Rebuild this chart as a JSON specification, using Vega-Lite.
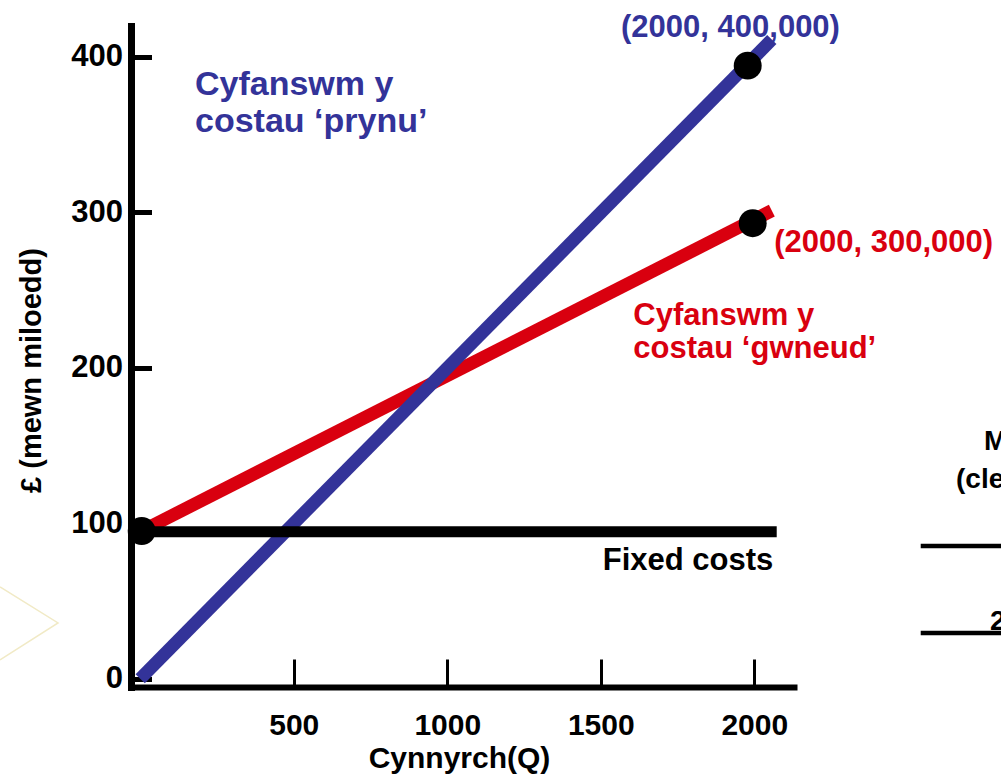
{
  "$schema": "https://vega.github.io/schema/vega-lite/v6.json",
  "width": 663,
  "height": 661,
  "autosize": {"type": "none"},
  "padding": {"left": 131, "top": 26, "right": 207, "bottom": 91},
  "background": "white",
  "config": {"view": {"stroke": null}, "font": "Liberation Sans", "axis": {"grid": false}},
  "datasets": {
    "lines": [
      {"series": "gwneud", "x": 4.8, "y": 95},
      {"series": "gwneud", "x": 2057, "y": 301},
      {"series": "prynu", "x": 0, "y": 0},
      {"series": "prynu", "x": 2057, "y": 411},
      {"series": "fixed", "x": -30, "y": 94.5},
      {"series": "fixed", "x": 2073, "y": 94.5}
    ],
    "points": [
      {"x": 1978.5, "y": 394.2},
      {"x": 1994.8, "y": 292.9},
      {"x": 4.8, "y": 95}
    ],
    "blueNote": [
      {"x": 178.4, "y": 375.4, "label": "Cyfanswm y"},
      {"x": 178.4, "y": 351.6, "label": "costau ‘prynu’"}
    ],
    "redNote": [
      {"x": 1606, "y": 227.5, "label": "Cyfanswm y"},
      {"x": 1606, "y": 206.1, "label": "costau ‘gwneud’"}
    ],
    "blueCoord": [{"x": 1566, "y": 412.7, "label": "(2000, 400,000)"}],
    "redCoord": [{"x": 2065, "y": 274.6, "label": "(2000, 300,000)"}],
    "fixedLabel": [{"x": 2062, "y": 69.9, "label": "Fixed costs"}],
    "tableText": [
      {"x": 2748, "y": 147.1, "label": "Maint"},
      {"x": 2657, "y": 122.7, "label": "(cleientiaid)"},
      {"x": 2768, "y": 31.3, "label": "2000"}
    ],
    "tableRules": [
      {"x": 2542, "x2": 3000, "y": 85.4},
      {"x": 2542, "x2": 3000, "y": 29.4}
    ],
    "watermark": [
      {"x": -456.6, "y": 59, "o": 1},
      {"x": -267.7, "y": 35.9, "o": 2},
      {"x": -456.6, "y": 12.1, "o": 3}
    ]
  },
  "encoding": {
    "x": {
      "field": "x",
      "type": "quantitative",
      "scale": {"domain": [-30, 2129.3], "nice": false, "zero": false},
      "axis": {
        "values": [500, 1000, 1500, 2000],
        "format": "d",
        "title": "Cynnyrch(Q)",
        "domainColor": "black",
        "domainWidth": 6,
        "domainCap": "square",
        "tickColor": "black",
        "tickWidth": 3,
        "tickSize": -28,
        "labelPadding": 75,
        "labelBaseline": "alphabetic",
        "labelFont": "Liberation Sans",
        "labelFontSize": 30,
        "labelFontWeight": "bold",
        "labelColor": "black",
        "labelFlush": false,
        "labelOverlap": false,
        "titleFont": "Liberation Sans",
        "titleFontSize": 30,
        "titleFontWeight": "bold",
        "titleColor": "black",
        "titleX": 328,
        "titleY": 80,
        "titleAlign": "center",
        "titleBaseline": "alphabetic"
      }
    },
    "y": {
      "field": "y",
      "type": "quantitative",
      "scale": {"domain": [-5.3, 419.7], "nice": false, "zero": false},
      "axis": {
        "values": [0, 100, 200, 300, 400],
        "format": "d",
        "title": "£ (mewn miloedd)",
        "domainColor": "black",
        "domainWidth": 7,
        "domainCap": "square",
        "tickColor": "black",
        "tickWidth": 5,
        "tickSize": -20.5,
        "labelPadding": 29,
        "labelFont": "Liberation Sans",
        "labelFontSize": 31,
        "labelFontWeight": "bold",
        "labelColor": "black",
        "labelFlush": false,
        "labelOverlap": false,
        "titleFont": "Liberation Sans",
        "titleFontSize": 29,
        "titleFontWeight": "bold",
        "titleColor": "black",
        "titleAngle": -90,
        "titleX": -91,
        "titleY": 344,
        "titleAlign": "center",
        "titleBaseline": "alphabetic"
      }
    }
  },
  "layer": [
    {
      "data": {"name": "watermark"},
      "mark": {"type": "line", "color": "#f1eac6", "strokeWidth": 1.5},
      "encoding": {"order": {"field": "o", "type": "quantitative"}}
    },
    {
      "data": {"name": "lines"},
      "transform": [{"filter": "datum.series === 'gwneud'"}],
      "mark": {"type": "line", "color": "#d9000f", "strokeWidth": 13, "strokeCap": "butt"},
      "encoding": {}
    },
    {
      "data": {"name": "lines"},
      "transform": [{"filter": "datum.series === 'prynu'"}],
      "mark": {"type": "line", "color": "#333399", "strokeWidth": 13, "strokeCap": "butt"},
      "encoding": {}
    },
    {
      "data": {"name": "lines"},
      "transform": [{"filter": "datum.series === 'fixed'"}],
      "mark": {"type": "line", "color": "black", "strokeWidth": 11, "strokeCap": "butt"},
      "encoding": {}
    },
    {
      "data": {"name": "points"},
      "mark": {"type": "circle", "color": "black", "size": 780, "opacity": 1},
      "encoding": {}
    },
    {
      "data": {"name": "blueNote"},
      "mark": {"type": "text", "align": "left", "baseline": "alphabetic", "font": "Liberation Sans", "fontWeight": "bold", "fontSize": 34, "color": "#333399"},
      "encoding": {"text": {"field": "label"}}
    },
    {
      "data": {"name": "redNote"},
      "mark": {"type": "text", "align": "left", "baseline": "alphabetic", "font": "Liberation Sans", "fontWeight": "bold", "fontSize": 31, "color": "#d9000f"},
      "encoding": {"text": {"field": "label"}}
    },
    {
      "data": {"name": "blueCoord"},
      "mark": {"type": "text", "align": "left", "baseline": "alphabetic", "font": "Liberation Sans", "fontWeight": "bold", "fontSize": 31, "color": "#333399"},
      "encoding": {"text": {"field": "label"}}
    },
    {
      "data": {"name": "redCoord"},
      "mark": {"type": "text", "align": "left", "baseline": "alphabetic", "font": "Liberation Sans", "fontWeight": "bold", "fontSize": 31, "color": "#d9000f"},
      "encoding": {"text": {"field": "label"}}
    },
    {
      "data": {"name": "fixedLabel"},
      "mark": {"type": "text", "align": "right", "baseline": "alphabetic", "font": "Liberation Sans", "fontWeight": "bold", "fontSize": 31, "color": "black"},
      "encoding": {"text": {"field": "label"}}
    },
    {
      "data": {"name": "tableText"},
      "mark": {"type": "text", "align": "left", "baseline": "alphabetic", "font": "Liberation Sans", "fontWeight": "bold", "fontSize": 28, "color": "black"},
      "encoding": {"text": {"field": "label"}}
    },
    {
      "data": {"name": "tableRules"},
      "mark": {"type": "rule", "color": "black", "strokeWidth": 4.5},
      "encoding": {"x2": {"field": "x2"}}
    }
  ]
}
